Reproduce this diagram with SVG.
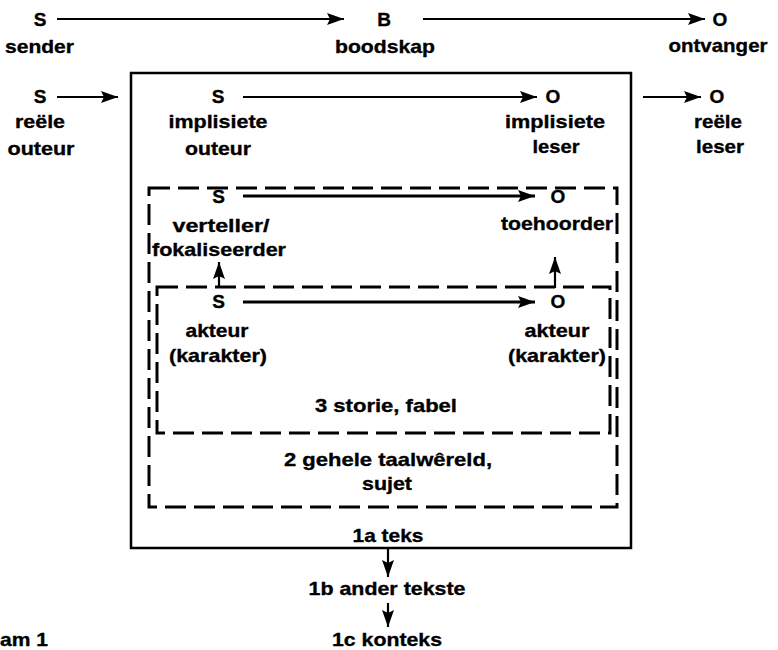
<svg xmlns="http://www.w3.org/2000/svg" width="778" height="650" viewBox="0 0 778 650">
<style>
text{font-family:"Liberation Sans",Arial,Helvetica,sans-serif;font-weight:bold;font-size:19px;fill:#000;stroke:#000;stroke-width:0.35;text-anchor:middle}
.ar{stroke:#000;stroke-width:2.2;fill:none;marker-end:url(#ah)}
.box{fill:none;stroke:#000;stroke-width:2.5}
.dash{fill:none;stroke:#000;stroke-width:3;stroke-dasharray:21 8}
</style>
<defs>
<marker id="ah" markerUnits="userSpaceOnUse" markerWidth="18" markerHeight="13" refX="17" refY="6" orient="auto">
<path d="M0,0 L17,6 L0,12 L3,6 z" fill="#000"/>
</marker>
</defs>
<rect width="778" height="650" fill="#fff"/>
<g id="frames">
<rect id="teks-box" class="box" x="131" y="73" width="500" height="475"/>
<rect id="taalwereld-box" class="dash" x="149" y="188" width="468" height="319"/>
<rect id="storie-box" class="dash" x="157" y="287" width="453" height="146"/>
</g>
<g id="connectors">
<line class="ar" x1="57" y1="19" x2="344" y2="19"/>
<line class="ar" x1="423" y1="19" x2="705" y2="19"/>
<line class="ar" x1="57" y1="97" x2="118" y2="97"/>
<line class="ar" x1="243" y1="97" x2="537" y2="97"/>
<line class="ar" x1="643" y1="97" x2="701" y2="97"/>
<line class="ar" x1="243" y1="196" x2="535" y2="196" style="stroke-width:2.8"/>
<line class="ar" x1="243" y1="302" x2="535" y2="302" style="stroke-width:2.8"/>
<line class="ar" x1="219" y1="288" x2="219" y2="262"/>
<line class="ar" x1="555" y1="288" x2="555" y2="257"/>
<line class="ar" x1="388" y1="549" x2="388" y2="577"/>
<line class="ar" x1="388" y1="603" x2="388" y2="627"/>
</g>
<g id="sender"><text x="40" y="26">S</text><text x="39.5" y="53" textLength="69" lengthAdjust="spacingAndGlyphs">sender</text></g>
<g id="boodskap"><text x="384" y="26">B</text><text x="385" y="53" textLength="100" lengthAdjust="spacingAndGlyphs">boodskap</text></g>
<g id="ontvanger"><text x="720" y="26">O</text><text x="718" y="52" textLength="99" lengthAdjust="spacingAndGlyphs">ontvanger</text></g>
<g id="reele-outeur"><text x="40" y="103">S</text><text x="40" y="128" textLength="50" lengthAdjust="spacingAndGlyphs">reële</text><text x="41" y="155" textLength="67" lengthAdjust="spacingAndGlyphs">outeur</text></g>
<g id="implisiete-outeur"><text x="218" y="103">S</text><text x="218" y="128" textLength="99" lengthAdjust="spacingAndGlyphs">implisiete</text><text x="218" y="155" textLength="66" lengthAdjust="spacingAndGlyphs">outeur</text></g>
<g id="implisiete-leser"><text x="553" y="103">O</text><text x="555" y="128" textLength="100" lengthAdjust="spacingAndGlyphs">implisiete</text><text x="556" y="153" textLength="47" lengthAdjust="spacingAndGlyphs">leser</text></g>
<g id="reele-leser"><text x="717" y="103">O</text><text x="718" y="128" textLength="48" lengthAdjust="spacingAndGlyphs">reële</text><text x="720" y="153" textLength="48" lengthAdjust="spacingAndGlyphs">leser</text></g>
<g id="verteller"><text x="218.5" y="203">S</text><text x="221" y="232" textLength="97" lengthAdjust="spacingAndGlyphs">verteller/</text><text x="219" y="256" textLength="134" lengthAdjust="spacingAndGlyphs">fokaliseerder</text></g>
<g id="toehoorder"><text x="558" y="203">O</text><text x="557" y="230" textLength="112" lengthAdjust="spacingAndGlyphs">toehoorder</text></g>
<g id="akteur-s"><text x="218.5" y="308">S</text><text x="217" y="337" textLength="63" lengthAdjust="spacingAndGlyphs">akteur</text><text x="218" y="362" textLength="98" lengthAdjust="spacingAndGlyphs">(karakter)</text></g>
<g id="akteur-o"><text x="558" y="308">O</text><text x="557" y="337" textLength="65" lengthAdjust="spacingAndGlyphs">akteur</text><text x="557" y="362" textLength="98" lengthAdjust="spacingAndGlyphs">(karakter)</text></g>
<g id="storie"><text x="386" y="412" textLength="142" lengthAdjust="spacingAndGlyphs">3 storie, fabel</text></g>
<g id="taalwereld"><text x="388" y="466" textLength="208" lengthAdjust="spacingAndGlyphs">2 gehele taalwêreld,</text><text x="387" y="490" textLength="50" lengthAdjust="spacingAndGlyphs">sujet</text></g>
<g id="teks"><text x="388" y="542" textLength="71" lengthAdjust="spacingAndGlyphs">1a teks</text></g>
<g id="ander-tekste"><text x="387" y="595" textLength="157" lengthAdjust="spacingAndGlyphs">1b ander tekste</text></g>
<g id="konteks"><text x="387" y="646" textLength="110" lengthAdjust="spacingAndGlyphs">1c konteks</text></g>
<text x="0" y="646" style="text-anchor:start" textLength="48" lengthAdjust="spacingAndGlyphs">am 1</text>
</svg>
